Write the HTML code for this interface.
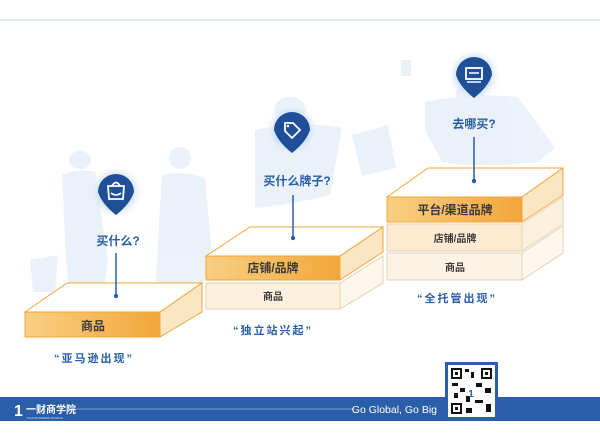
<!DOCTYPE html>
<html><head><meta charset="utf-8"><style>
body{margin:0;width:600px;height:441px;background:#fff;overflow:hidden;font-family:"Liberation Sans","Noto Sans CJK SC",sans-serif}
</style></head><body>
<svg width="600" height="441" viewBox="0 0 600 441" xmlns="http://www.w3.org/2000/svg" font-family="Liberation Sans, Noto Sans CJK SC, sans-serif">
<defs>
<linearGradient id="og" x1="0" x2="1"><stop offset="0" stop-color="#f9cf84"/><stop offset="1" stop-color="#f2a63a"/></linearGradient>
<radialGradient id="halo"><stop offset="0.6" stop-color="#c9dcf3"/><stop offset="1" stop-color="#eaf2fb" stop-opacity="0"/></radialGradient>
</defs>
<line x1="0" y1="20" x2="600" y2="20" stroke="#b9d0ea" stroke-width="1"/>
<g fill="#e4edf8" opacity="0.75">
<ellipse cx="80" cy="160" rx="11" ry="9"/><path d="M62 175 Q80 168 95 172 L108 260 L98 330 L72 330 L66 260Z"/>
<ellipse cx="180" cy="158" rx="11" ry="11"/><path d="M162 175 Q185 170 205 178 L212 255 L198 300 L155 300 L158 240Z"/>
<path d="M30 260 L58 255 L55 292 L33 292Z"/>
<ellipse cx="290" cy="110" rx="16" ry="13"/><path d="M255 130 Q300 120 342 128 L330 195 Q290 205 255 208 Z"/>
<path d="M352 135 L388 125 L396 168 L362 176Z"/>
<ellipse cx="470" cy="95" rx="14" ry="12"/><path d="M425 102 Q470 92 518 97 L555 148 L538 162 Q480 168 442 162 L425 130Z"/>
<path d="M401 60 L411 60 L411 76 L401 76Z"/>
</g>
<!-- step 1 -->
<polygon points="25,312 67,283 202,283 160,312" fill="#fff" stroke="#f2a63a" stroke-width="1"/>
<rect x="25" y="312" width="135" height="25" fill="url(#og)" stroke="#f2a63a" stroke-width="1"/>
<polygon points="160,312 202,283 202,312 160,337" fill="#fbe6c4" stroke="#f2a63a" stroke-width="1"/>
<text x="93" y="330" font-size="12" font-weight="bold" fill="#3a3a3a" text-anchor="middle">商品</text>
<line x1="116" y1="253" x2="116" y2="296" stroke="#2a5ea8" stroke-width="1.5"/><circle cx="116" cy="296" r="2.2" fill="#2a5ea8"/>
<text x="118" y="245" font-size="12" font-weight="bold" fill="#2a5ea8" text-anchor="middle">买什么?</text>
<text x="94" y="362" font-size="11" font-weight="bold" fill="#2a5ea8" text-anchor="middle" letter-spacing="2">“亚马逊出现”</text>
<!-- step 2 -->
<rect x="206" y="283" width="134" height="26" fill="#fdf1dd" stroke="#e0d3bd"/>
<polygon points="340,283 383,256 383,283 340,309" fill="#fff7ea" stroke="#e0d3bd"/>
<text x="273" y="300" font-size="10" font-weight="bold" fill="#3a3a3a" text-anchor="middle">商品</text>
<polygon points="206,256 250,227 383,227 340,256" fill="#fff" stroke="#f2a63a"/>
<rect x="206" y="256" width="134" height="24" fill="url(#og)" stroke="#f2a63a"/>
<polygon points="340,256 383,227 383,252 340,280" fill="#fbe6c4" stroke="#f2a63a"/>
<text x="273" y="272" font-size="12" font-weight="bold" fill="#3a3a3a" text-anchor="middle">店铺/品牌</text>
<line x1="293" y1="195" x2="293" y2="238" stroke="#2a5ea8" stroke-width="1.5"/><circle cx="293" cy="238" r="2.2" fill="#2a5ea8"/>
<text x="297" y="185" font-size="12" font-weight="bold" fill="#2a5ea8" text-anchor="middle">买什么牌子?</text>
<text x="273" y="334" font-size="11" font-weight="bold" fill="#2a5ea8" text-anchor="middle" letter-spacing="2">“独立站兴起”</text>
<!-- step 3 -->
<rect x="387" y="253" width="135" height="27" fill="#fdf3e3" stroke="#e0d3bd"/>
<polygon points="522,253 563,226 563,253 522,280" fill="#fff7ea" stroke="#e0d3bd"/>
<text x="455" y="271" font-size="10" font-weight="bold" fill="#3a3a3a" text-anchor="middle">商品</text>
<rect x="387" y="224" width="135" height="27" fill="#fcebd0" stroke="#e0d3bd"/>
<polygon points="522,224 563,197 563,224 522,251" fill="#fdf1dd" stroke="#e0d3bd"/>
<text x="455" y="242" font-size="10" font-weight="bold" fill="#3a3a3a" text-anchor="middle">店铺/品牌</text>
<polygon points="387,197 428,168 563,168 522,197" fill="#fff" stroke="#f2a63a"/>
<rect x="387" y="197" width="135" height="25" fill="url(#og)" stroke="#f2a63a"/>
<polygon points="522,197 563,168 563,195 522,222" fill="#fbe6c4" stroke="#f2a63a"/>
<text x="455" y="214" font-size="12" font-weight="bold" fill="#3a3a3a" text-anchor="middle">平台/渠道品牌</text>
<line x1="474" y1="137" x2="474" y2="181" stroke="#2a5ea8" stroke-width="1.5"/><circle cx="474" cy="181" r="2.2" fill="#2a5ea8"/>
<text x="474" y="128" font-size="12" font-weight="bold" fill="#2a5ea8" text-anchor="middle">去哪买?</text>
<text x="457" y="302" font-size="11" font-weight="bold" fill="#2a5ea8" text-anchor="middle" letter-spacing="2">“全托管出现”</text>
<!-- pins -->
<g>
<circle cx="116" cy="192" r="26" fill="url(#halo)"/>
<path d="M98 192 A18 18 0 1 1 134 192 Q130 204 116 215 Q102 204 98 192Z" fill="#1f4f97"/>
<path d="M108 186 h16 l-1 13 h-14z M112 186 q4 -7 8 0" fill="none" stroke="#fff" stroke-width="1.8"/>
<path d="M111 193 q5 4 10 0" fill="none" stroke="#fff" stroke-width="1.5"/>
<circle cx="292" cy="130" r="26" fill="url(#halo)"/>
<path d="M274 130 A18 18 0 1 1 310 130 Q306 142 292 153 Q278 142 274 130Z" fill="#1f4f97"/>
<path d="M285 123 l8 0 l7 7 l-8 8 l-7 -7z" fill="none" stroke="#fff" stroke-width="1.8"/><circle cx="288" cy="126" r="1.3" fill="#fff"/>
<circle cx="474" cy="75" r="26" fill="url(#halo)"/>
<path d="M456 75 A18 18 0 1 1 492 75 Q488 87 474 98 Q460 87 456 75Z" fill="#1f4f97"/>
<rect x="466" y="68" width="16" height="11" fill="none" stroke="#fff" stroke-width="1.8"/>
<line x1="469" y1="73" x2="479" y2="73" stroke="#fff" stroke-width="1.5"/><line x1="467" y1="82" x2="481" y2="82" stroke="#fff" stroke-width="1.5"/>
</g>
<!-- footer -->
<rect x="0" y="397" width="600" height="24" fill="#2a5ea8"/>
<text x="14" y="416" font-size="16" font-weight="bold" fill="#fff">1</text>
<text x="26" y="413" font-size="10" font-weight="bold" fill="#fff">一财商学院</text>
<text x="26" y="419" font-size="3" fill="#cfe0f5">YICAI BUSINESS SCHOOL</text>
<line x1="76" y1="409" x2="355" y2="409" stroke="#8fb0dd" stroke-width="0.8"/>
<text x="437" y="413" font-size="10.5" fill="#fff" text-anchor="end">Go Global, Go Big</text>
<rect x="445" y="362" width="53" height="58" fill="#2a5ea8"/>
<rect x="448" y="365" width="47" height="52" fill="#fff"/>
<g fill="#111">
<rect x="451" y="368" width="11" height="11"/><rect x="481" y="368" width="11" height="11"/><rect x="451" y="403" width="11" height="11"/>
<rect x="465" y="369" width="4" height="3"/><rect x="471" y="372" width="3" height="6"/><rect x="452" y="383" width="6" height="3"/><rect x="460" y="388" width="5" height="4"/><rect x="476" y="383" width="6" height="4"/><rect x="485" y="388" width="6" height="5"/><rect x="466" y="396" width="4" height="6"/><rect x="475" y="400" width="8" height="3"/><rect x="486" y="404" width="5" height="8"/><rect x="466" y="408" width="6" height="5"/><rect x="454" y="393" width="4" height="5"/></g>
<rect x="453" y="370" width="7" height="7" fill="#fff"/><rect x="483" y="370" width="7" height="7" fill="#fff"/><rect x="453" y="405" width="7" height="7" fill="#fff"/>
<rect x="455" y="372" width="3" height="3" fill="#111"/><rect x="485" y="372" width="3" height="3" fill="#111"/><rect x="455" y="407" width="3" height="3" fill="#111"/>
<text x="471" y="397" font-size="10" font-weight="bold" fill="#2a5ea8" text-anchor="middle">1</text>
</svg>
</body></html>
